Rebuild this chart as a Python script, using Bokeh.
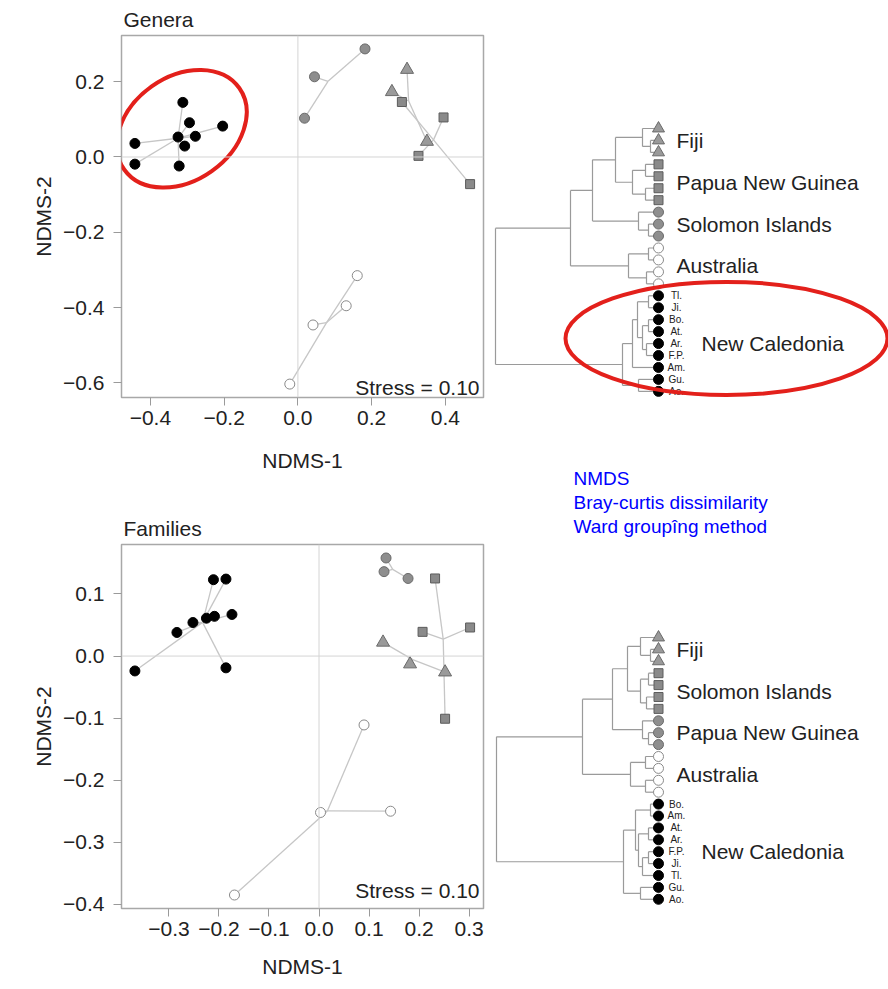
import numpy as np
from bokeh.plotting import figure
from bokeh.layouts import row, column
from bokeh.models import Range1d, FixedTicker, CustomJSTickFormatter, Span, Label
from bokeh.core.properties import value
from bokeh.embed import file_html
from bokeh.resources import INLINE

FONT = "Liberation Sans"
TXT = "#222222"
REGIONS = ["New Caledonia", "Solomon Islands", "Fiji", "Papua New Guinea", "Australia"]

# marker style for each region
STYLE = {
    "New Caledonia":    dict(marker="circle",   fill="#000000", line="#000000", size=10),
    "Solomon Islands":  dict(marker="circle",   fill="#8e8e8e", line="#6a6a6a", size=10),
    "Fiji":             dict(marker="triangle", fill="#9a9a9a", line="#6a6a6a", size=13),
    "Papua New Guinea": dict(marker="square",   fill="#8a8a8a", line="#5c5c5c", size=9),
    "Australia":        dict(marker="circle",   fill="#ffffff", line="#8a8a8a", size=10),
}

# ---- NMDS site scores, genus level ----
gen_region = (["New Caledonia"] * 9 + ["Solomon Islands"] * 3 + ["Fiji"] * 3
              + ["Papua New Guinea"] * 4 + ["Australia"] * 4)
gen_x = [-0.312, -0.294, -0.204, -0.325, -0.278, -0.307, -0.442, -0.442, -0.322,
         0.182, 0.045, 0.018,
         0.296, 0.255, 0.350,
         0.282, 0.395, 0.327, 0.467,
         0.161, 0.131, 0.041, -0.022]
gen_y = [0.145, 0.091, 0.082, 0.053, 0.055, 0.029, 0.036, -0.019, -0.024,
         0.287, 0.213, 0.103,
         0.232, 0.173, 0.041,
         0.146, 0.105, 0.003, -0.072,
         -0.315, -0.395, -0.446, -0.603]
gen_xticks = [-0.4, -0.2, 0.0, 0.2, 0.4]
gen_yticks = [-0.6, -0.4, -0.2, 0.0, 0.2]

# ---- NMDS site scores, family level ----
fam_region = gen_region
fam_x = [-0.368, -0.284, -0.252, -0.225, -0.209, -0.174, -0.211, -0.186, -0.186,
         0.134, 0.130, 0.178,
         0.128, 0.182, 0.252,
         0.232, 0.207, 0.302, 0.252,
         0.090, 0.003, 0.143, -0.169]
fam_y = [-0.024, 0.038, 0.054, 0.061, 0.064, 0.067, 0.123, 0.124, -0.019,
         0.158, 0.136, 0.125,
         0.022, -0.013, -0.026,
         0.125, 0.039, 0.046, -0.101,
         -0.111, -0.252, -0.250, -0.385]
fam_xticks = [-0.3, -0.2, -0.1, 0.0, 0.1, 0.2, 0.3]
fam_yticks = [-0.4, -0.3, -0.2, -0.1, 0.0, 0.1]

stress_text = "Stress = 0.10"

# ---- Ward dendrograms (leaf order top to bottom) ----
gen_leaf_region = (["Fiji"] * 3 + ["Papua New Guinea"] * 4 + ["Solomon Islands"] * 3
                   + ["Australia"] * 4 + ["New Caledonia"] * 9)
gen_leaf_names = [""] * 14 + ["Tl.", "Ji.", "Bo.", "At.", "Ar.", "F.P.", "Am.", "Gu.", "Ao."]
gen_block_labels = ["Fiji", "Papua New Guinea", "Solomon Islands", "Australia", "New Caledonia"]
# hclust-style merges: negative = leaf (1-based), positive = earlier merge
gen_merge_a = [-2, -1, -4, -6, 3, 2, -9, -8, 6, -11, -13, 10, 9, -15, -17, -19, 15, 14, 18, -22, 19, 13]
gen_merge_b = [-3, 1, -5, -7, 4, 5, -10, 7, 8, -12, -14, 11, 12, -16, -18, -20, 16, 17, -21, -23, 20, 21]
gen_merge_h = [0.08, 0.16, 0.13, 0.13, 0.26, 0.43, 0.10, 0.20, 0.66, 0.10, 0.12, 0.30, 0.88,
               0.10, 0.10, 0.12, 0.16, 0.21, 0.26, 0.20, 0.36, 1.63]

fam_leaf_region = gen_leaf_region
fam_leaf_names = [""] * 14 + ["Bo.", "Am.", "At.", "Ar.", "F.P.", "Ji.", "Tl.", "Gu.", "Ao."]
fam_block_labels = ["Fiji", "Solomon Islands", "Papua New Guinea", "Australia", "New Caledonia"]
fam_merge_a = [-2, -1, -4, -6, 3, 2, -9, -8, 6, -11, -13, 10, 9, -15, -17, -19, 16, 15, 14, -22, 19, 13]
fam_merge_b = [-3, 1, -5, -7, 4, 5, -10, 7, 8, -12, -14, 11, 12, -16, -18, -20, -21, 17, 18, -23, 20, 21]
fam_merge_h = [0.08, 0.18, 0.10, 0.12, 0.18, 0.31, 0.10, 0.16, 0.46, 0.13, 0.13, 0.28, 0.76,
               0.08, 0.10, 0.10, 0.16, 0.20, 0.23, 0.18, 0.35, 1.62]

method_text = "NMDS\nBray-curtis dissimilarity\nWard groupîng method"


def fmt():
    return CustomJSTickFormatter(code="""
        if (Math.abs(tick) < 1e-9) { return '0.0'; }
        return (tick < 0 ? '\u2212' : '') + Math.abs(tick).toFixed(1);
    """)


def padded(vals):
    lo, hi = min(vals), max(vals)
    pad = 0.04 * (hi - lo)
    return Range1d(lo - pad, hi + pad)


def make_scatter(title, xs, ys, regions, xticks, yticks, height, b_top, b_bottom,
                 label_standoff, stress_off):
    p = figure(width=490, height=height, output_backend="svg", toolbar_location=None,
               x_range=padded(xs), y_range=padded(ys), title=title,
               min_border_left=121, min_border_right=7,
               min_border_top=b_top, min_border_bottom=b_bottom)
    p.background_fill_color = "white"
    p.border_fill_color = "white"
    p.outline_line_color = "#a8a8a8"
    p.outline_line_width = 1.5
    p.xgrid.visible = False
    p.ygrid.visible = False

    p.title.text_font = FONT
    p.title.text_font_size = "21px"
    p.title.text_font_style = "normal"
    p.title.text_color = TXT
    p.title.align = "left"
    p.title.offset = 2
    p.title.standoff = 9

    p.xaxis.ticker = FixedTicker(ticks=xticks)
    p.yaxis.ticker = FixedTicker(ticks=yticks)
    p.xaxis.axis_label = "NDMS-1"
    p.yaxis.axis_label = "NDMS-2"
    for ax in (p.xaxis[0], p.yaxis[0]):
        ax.formatter = fmt()
        ax.axis_line_color = None
        ax.major_tick_line_color = "#9a9a9a"
        ax.major_tick_out = 8
        ax.major_tick_in = 0
        ax.minor_tick_line_color = None
        ax.major_label_text_font = FONT
        ax.major_label_text_font_size = "21px"
        ax.major_label_text_color = TXT
        ax.axis_label_text_font = FONT
        ax.axis_label_text_font_size = "21px"
        ax.axis_label_text_font_style = "normal"
        ax.axis_label_text_color = TXT
    p.xaxis.major_label_standoff = 5
    p.xaxis.axis_label_standoff = label_standoff
    p.yaxis.major_label_standoff = 9
    p.yaxis.axis_label_standoff = 5

    p.add_layout(Span(location=0, dimension="width", line_color="#d4d4d4", line_width=1))
    p.add_layout(Span(location=0, dimension="height", line_color="#d4d4d4", line_width=1))

    # spider lines from each group centroid to its sites
    x0, y0, x1, y1 = [], [], [], []
    for r in REGIONS:
        idx = [k for k, g in enumerate(regions) if g == r]
        cx = float(np.mean([xs[k] for k in idx]))
        cy = float(np.mean([ys[k] for k in idx]))
        for k in idx:
            x0.append(cx); y0.append(cy); x1.append(xs[k]); y1.append(ys[k])
    p.segment(x0, y0, x1, y1, line_color="#c6c6c6", line_width=1.3)

    for r in REGIONS:
        idx = [k for k, g in enumerate(regions) if g == r]
        st = STYLE[r]
        p.scatter([xs[k] for k in idx], [ys[k] for k in idx], marker=st["marker"],
                  size=st["size"], fill_color=st["fill"], line_color=st["line"], line_width=1)

    p.add_layout(Label(x=p.x_range.end, y=p.y_range.start, x_offset=-4, y_offset=stress_off,
                       text=stress_text, text_align="right", text_baseline="alphabetic",
                       text_font=FONT, text_font_size="21px", text_color=TXT))
    return p


def make_dendro(height, y_bottom, y_top, leaf_region, leaf_names, block_labels, ma, mb, mh):
    p = figure(width=398, height=height, output_backend="svg", toolbar_location=None,
               x_range=Range1d(1.68, -2.30), y_range=Range1d(y_bottom, y_top),
               min_border=0)
    p.axis.visible = False
    p.grid.visible = False
    p.outline_line_color = None
    p.background_fill_color = "white"
    p.border_fill_color = "white"

    n = len(leaf_region)
    node_y, node_h = [], []

    def pos(ref):
        if ref < 0:
            return float(-ref - 1), 0.0
        return node_y[ref - 1], node_h[ref - 1]

    xs0, ys0, xs1, ys1 = [], [], [], []
    for a, b, h in zip(ma, mb, mh):
        ya, ha = pos(a)
        yb, hb = pos(b)
        xs0 += [ha, hb, h]; ys0 += [ya, yb, ya]
        xs1 += [h, h, h];   ys1 += [ya, yb, yb]
        node_y.append((ya + yb) / 2)
        node_h.append(h)
    p.segment(xs0, ys0, xs1, ys1, line_color="#9a9a9a", line_width=1.2)

    leaf_idx = list(range(n))
    for r in REGIONS:
        idx = [k for k in leaf_idx if leaf_region[k] == r]
        st = STYLE[r]
        size = st["size"] - (1 if st["marker"] == "triangle" else 0)
        p.scatter([0.0] * len(idx), idx, marker=st["marker"], size=size,
                  fill_color=st["fill"], line_color=st["line"], line_width=1)

    named = [k for k in leaf_idx if leaf_names[k]]
    p.text([0.0] * len(named), named, text=[leaf_names[k] for k in named],
           x_offset=18, text_align="center", text_baseline="middle",
           text_font=value(FONT), text_font_size="10px", text_color=TXT)

    # block labels at the middle of each region's run of leaves
    blocks = []
    for k in leaf_idx:
        if not blocks or leaf_region[k] != leaf_region[blocks[-1][-1]]:
            blocks.append([k])
        else:
            blocks[-1].append(k)
    for lab, blk in zip(block_labels, blocks):
        nc = leaf_region[blk[0]] == "New Caledonia"
        p.text([0.0], [float(np.mean(blk))], text=[lab], x_offset=43 if nc else 18,
               text_align="left", text_baseline="middle",
               text_font=value(FONT), text_font_size="21px", text_color=TXT)
    return p


s1 = make_scatter("Genera", gen_x, gen_y, gen_region, gen_xticks, gen_yticks,
                  480, 35, 83, 21, 10)
s2 = make_scatter("Families", fam_x, fam_y, fam_region, fam_xticks, fam_yticks,
                  509, 64, 81, 16, 18)

# highlight around the New Caledonia sites
s1.ellipse(x=[-0.315], y=[0.075], width=141, height=104, width_units="screen",
           height_units="screen", angle=0.616, fill_color=None, line_color="#e3201b",
           line_width=4)

d1 = make_dendro(540, 34.48, -10.71, gen_leaf_region, gen_leaf_names, gen_block_labels,
                 gen_merge_a, gen_merge_b, gen_merge_h)
d1.ellipse(x=[-0.68], y=[17.57], width=322, height=113, width_units="screen",
           height_units="screen", fill_color=None, line_color="#e3201b", line_width=4)
d1.add_layout(Label(x=0.0, y=28.45, x_offset=-85, text=method_text, text_align="left",
                    text_baseline="top", text_font=FONT, text_font_size="19px",
                    text_color="#0000ff", text_line_height=1.13))

d2 = make_dendro(449, 29.58, -8.15, fam_leaf_region, fam_leaf_names, fam_block_labels,
                 fam_merge_a, fam_merge_b, fam_merge_h)

layout = row(column(s1, s2), column(d1, d2))

with open("out.html", "w") as f:
    f.write(file_html(layout, INLINE))
